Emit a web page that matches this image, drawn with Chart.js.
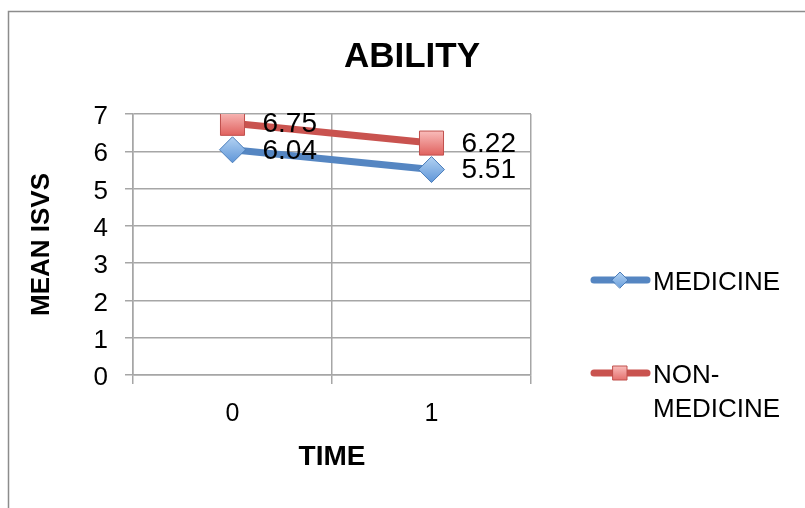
<!DOCTYPE html>
<html>
<head>
<meta charset="utf-8">
<script src="https://cdn.jsdelivr.net/npm/chart.js@4"></script>
<style>
  html, body { margin: 0; padding: 0; background: #fff; }
  #wrap { position: relative; width: 805px; height: 508px; }
</style>
</head>
<body>
<div id="wrap"><canvas id="c"></canvas></div>
<script>
const FONT = '"Liberation Sans", Arial, Helvetica, sans-serif';

// Chart content
const chartTitle = 'ABILITY';
const timeLabels = ['0', '1'];
const medicineMeans = [6.04, 5.51];
const nonMedicineMeans = [6.75, 6.22];
const seriesNames = ['MEDICINE', 'NON-MEDICINE'];
const legendText = [['MEDICINE'], ['NON-', 'MEDICINE']];
const yAxisTitle = 'MEAN ISVS';
const xAxisTitle = 'TIME';
const yMin = 0, yMax = 7, yStep = 1;

const BLUE = '#5586C2';
const RED = '#C9534F';
const GRID = '#a6a6a6';

// Vertical light-to-dark fill for the point markers
function markerFill(light, dark, half) {
  return (c) => {
    const chart = c.chart;
    const ys = chart.scales && chart.scales.y;
    if (!ys || c.type !== 'data') return dark;
    const py = ys.getPixelForValue(c.raw);
    if (!Number.isFinite(py)) return dark;
    const g = chart.ctx.createLinearGradient(0, py - half, 0, py + half);
    g.addColorStop(0, light);
    g.addColorStop(1, dark);
    return g;
  };
}

function drawDiamond(ctx, x, y, r, fill, stroke) {
  ctx.beginPath();
  ctx.moveTo(x - r, y); ctx.lineTo(x, y - r); ctx.lineTo(x + r, y); ctx.lineTo(x, y + r);
  ctx.closePath();
  ctx.fillStyle = fill; ctx.fill();
  ctx.lineWidth = 1; ctx.strokeStyle = stroke; ctx.stroke();
}
function drawSquare(ctx, x, y, h, fill, stroke) {
  ctx.beginPath();
  ctx.rect(x - h, y - h, 2 * h, 2 * h);
  ctx.fillStyle = fill; ctx.fill();
  ctx.lineWidth = 1; ctx.strokeStyle = stroke; ctx.stroke();
}

// Outer frame of the chart object
const framePlugin = {
  id: 'frame',
  beforeDraw(chart) {
    const ctx = chart.ctx;
    ctx.save();
    ctx.strokeStyle = '#8c8c8c';
    ctx.lineWidth = 1.5;
    ctx.strokeRect(8.5, 11.5, 900, 600);
    ctx.restore();
  }
};

// Chart heading
const headingPlugin = {
  id: 'heading',
  afterDraw(chart) {
    const ctx = chart.ctx;
    ctx.save();
    ctx.font = `bold 35px ${FONT}`;
    ctx.fillStyle = '#000';
    ctx.textAlign = 'center';
    ctx.textBaseline = 'middle';
    ctx.fillText(chartTitle, 412, 57);
    ctx.restore();
  }
};

// Value labels to the right of every point
const valueLabelPlugin = {
  id: 'valueLabels',
  afterDatasetsDraw(chart) {
    const ctx = chart.ctx;
    ctx.save();
    ctx.font = `28px ${FONT}`;
    ctx.fillStyle = '#000';
    ctx.textAlign = 'left';
    ctx.textBaseline = 'middle';
    chart.data.datasets.forEach((ds, i) => {
      const meta = chart.getDatasetMeta(i);
      meta.data.forEach((pt, j) => {
        ctx.fillText(ds.data[j].toFixed(2), pt.x + 30, pt.y + 1);
      });
    });
    ctx.restore();
  }
};

// Legend on the right, with wrapped series names
const sideLegendPlugin = {
  id: 'sideLegend',
  afterDraw(chart) {
    const ctx = chart.ctx;
    const rows = [280, 373];
    ctx.save();
    chart.data.datasets.forEach((ds, i) => {
      const y = rows[i];
      ctx.beginPath();
      ctx.lineCap = 'round';
      ctx.lineWidth = 7;
      ctx.strokeStyle = ds.borderColor;
      ctx.moveTo(594, y); ctx.lineTo(647, y);
      ctx.stroke();
      if (i === 0) {
        const g = ctx.createLinearGradient(0, y - 8, 0, y + 8);
        g.addColorStop(0, '#b3d2f2'); g.addColorStop(1, '#6a9fdc');
        drawDiamond(ctx, 620, y, 8, g, '#4a7dba');
      } else {
        const g = ctx.createLinearGradient(0, y - 7, 0, y + 7);
        g.addColorStop(0, '#f9bcba'); g.addColorStop(1, '#e4706d');
        drawSquare(ctx, 620, y, 7, g, '#c0504d');
      }
      ctx.font = `26px ${FONT}`;
      ctx.fillStyle = '#000';
      ctx.textAlign = 'left';
      ctx.textBaseline = 'middle';
      legendText[i].forEach((line, k) => ctx.fillText(line, 653, y + 3 + k * 34));
    });
    ctx.restore();
  }
};

new Chart(document.getElementById('c'), {
  type: 'line',
  data: {
    labels: timeLabels,
    datasets: [
      {
        label: seriesNames[0],
        data: medicineMeans,
        borderColor: BLUE,
        borderWidth: 7,
        pointStyle: 'rectRot',
        pointRadius: 13,
        pointBorderWidth: 1,
        pointBorderColor: '#4a7dba',
        pointBackgroundColor: markerFill('#b3d2f2', '#5f96d8', 13)
      },
      {
        label: seriesNames[1],
        data: nonMedicineMeans,
        borderColor: RED,
        borderWidth: 7,
        pointStyle: 'rect',
        pointRadius: 17,
        pointBorderWidth: 1,
        pointBorderColor: '#c0504d',
        pointBackgroundColor: markerFill('#f9bcba', '#e0625f', 12)
      }
    ]
  },
  options: {
    responsive: true,
    maintainAspectRatio: false,
    animation: false,
    events: [],
    layout: { padding: { top: 114, right: 274, left: 0, bottom: 0 } },
    elements: { line: { tension: 0 } },
    plugins: {
      legend: { display: false },
      title: { display: false },
      tooltip: { enabled: false }
    },
    scales: {
      x: {
        type: 'category',
        offset: true,
        grid: { offset: true, color: GRID, lineWidth: 1.5, tickLength: 9 },
        border: { color: GRID, width: 1.5 },
        ticks: { color: '#000', font: { family: FONT, size: 25 }, padding: 15 },
        title: {
          display: true, text: xAxisTitle, color: '#000',
          font: { family: FONT, size: 28, weight: 'bold' },
          padding: { top: 0, bottom: 34 }
        },
        afterFit(s) { s.height = 133; }
      },
      y: {
        min: yMin,
        max: yMax,
        grid: { color: GRID, lineWidth: 1.5, tickLength: 8 },
        border: { color: GRID, width: 1.5 },
        ticks: { stepSize: yStep, color: '#000', font: { family: FONT, size: 26 }, padding: 17, labelOffset: 3 },
        title: {
          display: true, text: yAxisTitle, color: '#000',
          font: { family: FONT, size: 26, weight: 'bold' },
          padding: { top: 26, bottom: 0 }
        },
        afterFit(s) { s.width = 133; }
      }
    }
  },
  plugins: [framePlugin, headingPlugin, valueLabelPlugin, sideLegendPlugin]
});
</script>
</body>
</html>
